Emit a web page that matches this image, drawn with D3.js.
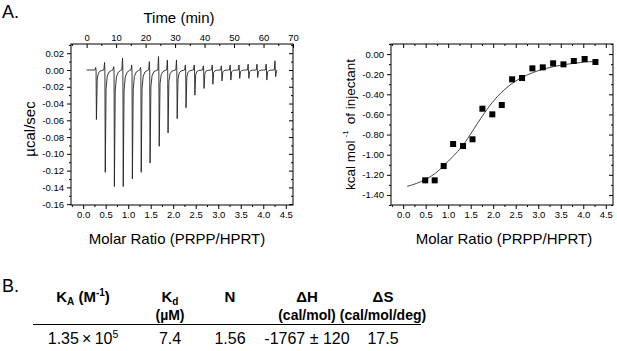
<!DOCTYPE html>
<html><head><meta charset="utf-8">
<script src="https://cdn.jsdelivr.net/npm/d3@7"></script>
<style>
body{margin:0;background:#fff}
svg{display:block}
text{font-family:"Liberation Sans",Arial,sans-serif;fill:#000}
</style>
</head><body><svg id="c" width="617" height="351"></svg>
<script>
// ---------- DATA ----------
// Raw ITC thermogram (left panel)
const injectionTimes = [3.2, 6.2, 9.3, 12.3, 15.4, 18.4, 21.4, 24.5, 27.5, 30.6, 33.6, 36.6, 39.7, 42.7, 45.8, 48.8, 51.8, 54.9, 57.9, 61.0, 64.0];
const peakHeights = [-0.059, -0.122, -0.139, -0.139, -0.130, -0.122, -0.111, -0.091, -0.075, -0.058, -0.045, -0.030, -0.022, -0.017, -0.013, -0.012, -0.010, -0.010, -0.009, -0.012, -0.008];
const preSpike = [0.003, 0.009, 0.004, 0.014, 0.006, 0.003, 0.010, 0.016, 0.012, 0.012, 0.006, 0.006, 0.005, 0.006, 0.005, 0.006, 0.006, 0.007, 0.007, 0.007, 0.011];
const traceStart = 0, traceEnd = 64.6;
// peak profile: time offsets (min) and fraction of peak
const profileOffsets = [0.12, 0.4, 0.8, 1.4, 2.2];
const profileFractions = [1, 0.18, 0.06, 0.02, 0.005];

// Integrated heats (right panel)
const pointRatio = [0.49, 0.70, 0.90, 1.11, 1.33, 1.54, 1.76, 1.98, 2.19, 2.42, 2.64, 2.87, 3.10, 3.33, 3.56, 3.79, 4.03, 4.27];
const pointValue = [-1.255, -1.255, -1.113, -0.894, -0.914, -0.847, -0.543, -0.599, -0.506, -0.251, -0.238, -0.142, -0.132, -0.092, -0.102, -0.069, -0.049, -0.079];
const fitRatio = [0.09, 0.3, 0.5, 0.7, 0.9, 1.1, 1.33, 1.54, 1.76, 1.98, 2.19, 2.42, 2.64, 2.87, 3.10, 3.33, 3.56, 3.79, 4.03, 4.27];
const fitValue = [-1.315, -1.285, -1.245, -1.19, -1.11, -1.02, -0.905, -0.765, -0.615, -0.48, -0.378, -0.292, -0.232, -0.186, -0.152, -0.126, -0.106, -0.092, -0.080, -0.072];

// Ticks
const ratioTicks = [0, 0.5, 1, 1.5, 2, 2.5, 3, 3.5, 4, 4.5];
const ratioMinor = [-0.25, 0.25, 0.75, 1.25, 1.75, 2.25, 2.75, 3.25, 3.75, 4.25];
const timeTicks = [0, 10, 20, 30, 40, 50, 60, 70];
const timeMinor = [-5, 5, 15, 25, 35, 45, 55, 65];
const rawTicks = [0.02, 0, -0.02, -0.04, -0.06, -0.08, -0.10, -0.12, -0.14, -0.16];
const rawMinor = [0.03, 0.01, -0.01, -0.03, -0.05, -0.07, -0.09, -0.11, -0.13, -0.15];
const heatTicks = [0, -0.2, -0.4, -0.6, -0.8, -1.0, -1.2, -1.4];
const heatMinor = [0.1, -0.1, -0.3, -0.5, -0.7, -0.9, -1.1, -1.3, -1.5];

// Table
const tableHeads1 = ["KA", "Kd", "N", "ΔH", "ΔS"];
const tableHeads2 = ["", "(µM)", "", "(cal/mol)", "(cal/mol/deg)"];
const tableValues = ["1.35\u2009×\u200910", "7.4", "1.56", "-1767\u00a0±\u00a0120", "17.5"];

// ---------- DRAW ----------
const svg = d3.select("#c");
const FONT_TICK = 9.5;
const fmt2 = v => { const s = v.toFixed(2); return s === "-0.00" ? "0.00" : s; };
const fmt1 = v => v.toFixed(1);

function frame(x0, x1, y0, y1) {
  svg.append("rect").attr("x", x0).attr("y", y0).attr("width", x1 - x0).attr("height", y1 - y0)
    .attr("fill", "none").attr("stroke", "#000").attr("stroke-width", 1);
}
function tickAxis(axisFn, scale, vals, size, transform, fmt, pad) {
  const ax = axisFn(scale).tickValues(vals).tickSizeInner(size).tickSizeOuter(0)
    .tickFormat(fmt || "").tickPadding(pad == null ? 3 : pad);
  const g = svg.append("g").attr("transform", transform).call(ax);
  g.select(".domain").remove();
  g.selectAll("line").attr("stroke", "#000").attr("stroke-width", 1);
  g.selectAll("text").attr("font-size", FONT_TICK).attr("fill", "#000")
    .style("font-family", '"Liberation Sans",Arial,sans-serif');
  return g;
}

// ----- Left panel -----
const L = {x0: 71, x1: 293, y0: 44, y1: 205};
const xRatioL = d3.scaleLinear().domain([-0.27, 4.66]).range([L.x0, L.x1]);
const xTime = d3.scaleLinear().domain([-5.3, 70]).range([L.x0, L.x1]);
const yRaw = d3.scaleLinear().domain([-0.161, 0.031]).range([L.y1, L.y0]);

// build thermogram trace from injection data
const trace = [[traceStart, 0]];
injectionTimes.forEach((t, i) => {
  trace.push([t - 0.35, 0]);
  trace.push([t - 0.12, preSpike[i]]);
  trace.push([t, 0]);
  profileOffsets.forEach((o, k) => trace.push([t + o, peakHeights[i] * profileFractions[k]]));
});
trace.push([traceEnd, 0]);
const traceLine = d3.line().x(d => xTime(d[0])).y(d => yRaw(d[1]));
svg.append("path").attr("d", traceLine(trace.filter(d => d[0] <= traceEnd)))
  .attr("fill", "none").attr("stroke", "#222").attr("stroke-width", 0.9).attr("stroke-linejoin", "round");

// axes left panel
tickAxis(d3.axisLeft, yRaw, rawTicks, 4, `translate(${L.x0},0)`);
tickAxis(d3.axisLeft, yRaw, rawMinor, 2, `translate(${L.x0},0)`);
tickAxis(d3.axisLeft, yRaw, rawTicks, 0, `translate(${L.x0},0)`, fmt2, 7);
tickAxis(d3.axisRight, yRaw, rawTicks, -4, `translate(${L.x1},0)`);
tickAxis(d3.axisRight, yRaw, rawMinor, -2, `translate(${L.x1},0)`);
tickAxis(d3.axisBottom, xRatioL, ratioTicks, 4, `translate(0,${L.y1})`);
tickAxis(d3.axisBottom, xRatioL, ratioMinor, 2, `translate(0,${L.y1})`);
tickAxis(d3.axisBottom, xRatioL, ratioTicks, 0, `translate(0,${L.y1})`, fmt1, 6);
tickAxis(d3.axisTop, xTime, timeTicks, -4, `translate(0,${L.y0})`);
tickAxis(d3.axisTop, xTime, timeMinor, -2, `translate(0,${L.y0})`);
tickAxis(d3.axisTop, xTime, timeTicks, 0, `translate(0,${L.y0})`, d => d, 3);
frame(L.x0, L.x1, L.y0, L.y1);

svg.append("text").attr("x", 179).attr("y", 23).attr("text-anchor", "middle").attr("font-size", 15).text("Time (min)");
svg.append("text").attr("x", 177).attr("y", 244).attr("text-anchor", "middle").attr("font-size", 15).text("Molar Ratio (PRPP/HPRT)");
svg.append("text").attr("transform", "translate(35,129) rotate(-90)").attr("text-anchor", "middle").attr("font-size", 15).text("µcal/sec");

// ----- Right panel -----
const R = {x0: 391, x1: 613, y0: 44, y1: 205};
const xRatioR = d3.scaleLinear().domain([-0.27, 4.66]).range([R.x0, R.x1]);
const yHeat = d3.scaleLinear().domain([-1.5, 0.1]).range([R.y1, R.y0]);

const fitLine = d3.line().x(d => xRatioR(d[0])).y(d => yHeat(d[1])).curve(d3.curveMonotoneX);
svg.append("path").attr("d", fitLine(fitRatio.map((r, i) => [r, fitValue[i]])))
  .attr("fill", "none").attr("stroke", "#333").attr("stroke-width", 0.9);

const SQ = 6;
svg.append("g").selectAll("rect").data(pointRatio.map((r, i) => [r, pointValue[i]])).join("rect")
  .attr("x", d => xRatioR(d[0]) - SQ / 2).attr("y", d => yHeat(d[1]) - SQ / 2)
  .attr("width", SQ).attr("height", SQ).attr("fill", "#000");

tickAxis(d3.axisLeft, yHeat, heatTicks, 4, `translate(${R.x0},0)`);
tickAxis(d3.axisLeft, yHeat, heatMinor, 2, `translate(${R.x0},0)`);
tickAxis(d3.axisLeft, yHeat, heatTicks, 0, `translate(${R.x0},0)`, fmt2, 7);
tickAxis(d3.axisRight, yHeat, heatTicks, -4, `translate(${R.x1},0)`);
tickAxis(d3.axisRight, yHeat, heatMinor, -2, `translate(${R.x1},0)`);
tickAxis(d3.axisBottom, xRatioR, ratioTicks, 4, `translate(0,${R.y1})`);
tickAxis(d3.axisBottom, xRatioR, ratioMinor, 2, `translate(0,${R.y1})`);
tickAxis(d3.axisBottom, xRatioR, ratioTicks, 0, `translate(0,${R.y1})`, fmt1, 6);
tickAxis(d3.axisTop, xRatioR, ratioTicks, -4, `translate(0,${R.y0})`);
tickAxis(d3.axisTop, xRatioR, ratioMinor, -2, `translate(0,${R.y0})`);
frame(R.x0, R.x1, R.y0, R.y1);

svg.append("text").attr("x", 504).attr("y", 244).attr("text-anchor", "middle").attr("font-size", 15).text("Molar Ratio (PRPP/HPRT)");
const yl = svg.append("text").attr("transform", "translate(355,124.5) rotate(-90)").attr("text-anchor", "middle").attr("font-size", 13.5);
yl.append("tspan").text("kcal mol");
yl.append("tspan").attr("font-size", 8).attr("dy", -7).attr("dx", 3).text("-1");
yl.append("tspan").attr("dy", 7).attr("dx", 6).text("of injectant");

// Panel letters
svg.append("text").attr("x", 2).attr("y", 18).attr("font-size", 18).text("A.");
svg.append("text").attr("x", 2).attr("y", 292).attr("font-size", 18).text("B.");

// ----- Table -----
const colX = [83, 170, 230, 307, 383];
const h1 = svg.append("g").attr("font-weight", "bold").attr("font-size", 14);
// KA (M-1)
const tKA = h1.append("text").attr("x", colX[0]).attr("y", 302).attr("text-anchor", "middle").attr("font-size", 15);
tKA.append("tspan").text(tableHeads1[0][0]);
tKA.append("tspan").attr("font-size", 10).attr("dy", 3).text(tableHeads1[0].slice(1));
tKA.append("tspan").attr("dy", -3).text(" (M");
tKA.append("tspan").attr("font-size", 10).attr("dy", -6).text("-1");
tKA.append("tspan").attr("dy", 6).text(")");
const tKd = h1.append("text").attr("x", colX[1]).attr("y", 302).attr("text-anchor", "middle").attr("font-size", 15);
tKd.append("tspan").text(tableHeads1[1][0]);
tKd.append("tspan").attr("font-size", 10).attr("dy", 3).text(tableHeads1[1].slice(1));
[2, 3, 4].forEach(i => h1.append("text").attr("x", colX[i]).attr("y", 302).attr("text-anchor", "middle").attr("font-size", 15).text(tableHeads1[i]));
tableHeads2.forEach((s, i) => { if (s) h1.append("text").attr("x", colX[i]).attr("y", 320).attr("text-anchor", "middle").text(s); });

svg.append("line").attr("x1", 33).attr("x2", 421).attr("y1", 324.5).attr("y2", 324.5).attr("stroke", "#000").attr("stroke-width", 1);

const vr = svg.append("g").attr("font-size", 16);
tableValues.forEach((s, i) => {
  const t = vr.append("text").attr("x", colX[i]).attr("y", 344).attr("text-anchor", "middle");
  t.append("tspan").text(s);
  if (i === 0) t.append("tspan").attr("font-size", 10.5).attr("dy", -6).text("5");
});
</script>
</body></html>
